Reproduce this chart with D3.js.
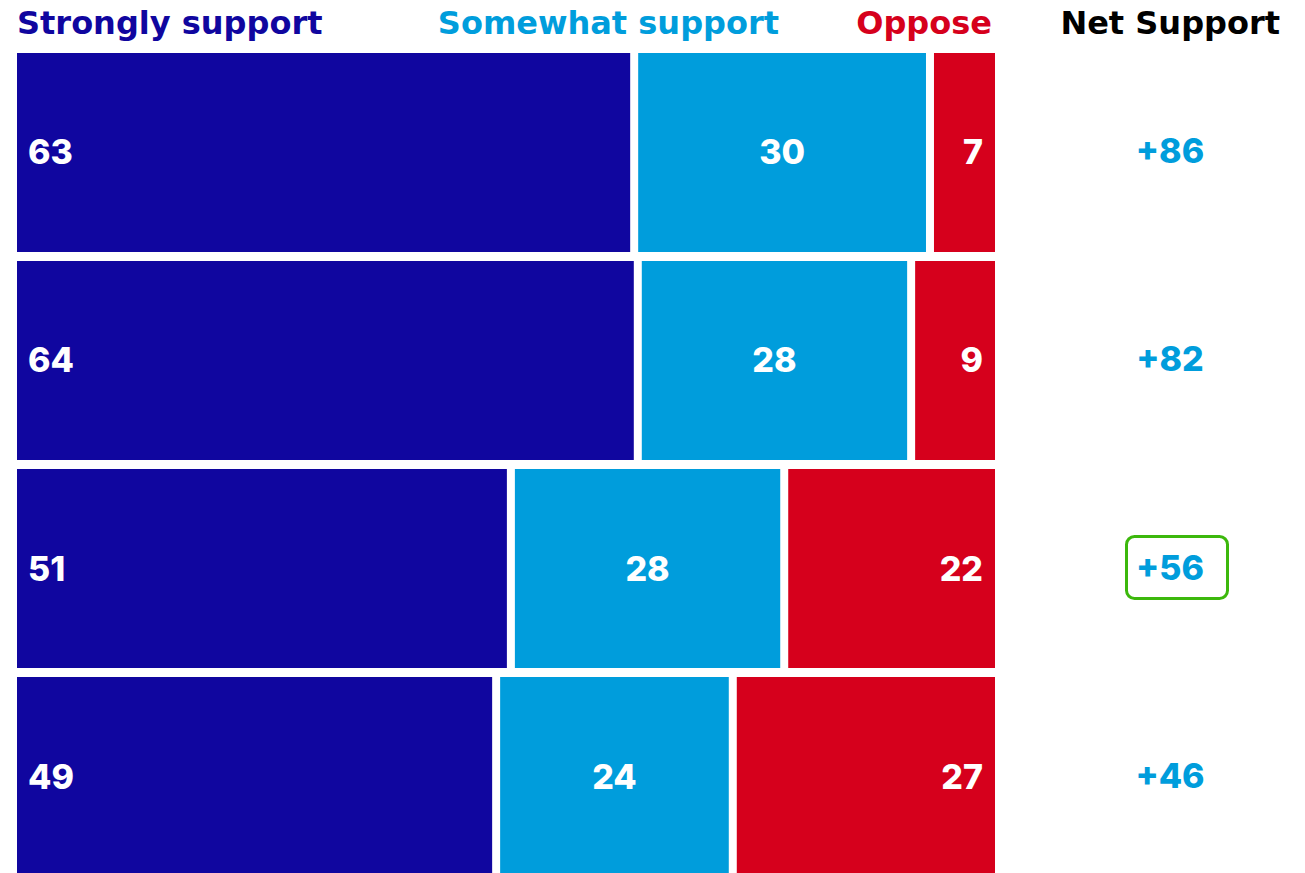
<!DOCTYPE html>
<html>
<head>
<meta charset="utf-8">
<script src="https://cdn.jsdelivr.net/npm/d3@7"></script>
<style>
  html, body { margin: 0; padding: 0; background: #ffffff; }
  svg { display: block; }
  text { font-family: Inter, "Open Sans", sans-serif; font-weight: 800; }
  text.header { font-family: "DejaVu Sans", sans-serif; font-weight: 700; }
</style>
</head>
<body>
<svg id="chart" width="1305" height="873"></svg>
<script>
// Survey responses per group (percent)
const rows = ["r1", "r2", "r3", "r4"];
const strongly = [63, 64, 51, 49];
const somewhat = [30, 28, 28, 24];
const oppose = [7, 9, 22, 27];
const netSupport = ["+86", "+82", "+56", "+46"];
const highlighted = "r3";

const seriesNames = ["Strongly support", "Somewhat support", "Oppose"];
const seriesValues = [strongly, somewhat, oppose];
const colors = ["#10069f", "#009ddc", "#d6001c"];

const svg = d3.select("#chart");
const left = 17, right = 1003, gap = 8;

const y = d3.scaleBand()
  .domain(rows)
  .range([53, 876])
  .paddingInner(0.0433)
  .paddingOuter(0);

// Column headers
const headerY = 34;
const headers = [
  { text: seriesNames[0], x: 17, anchor: "start", color: colors[0] },
  { text: seriesNames[1], x: 779, anchor: "end", color: colors[1] },
  { text: seriesNames[2], x: 992, anchor: "end", color: colors[2] },
  { text: "Net Support", x: 1280, anchor: "end", color: "#000000" }
];
svg.selectAll("text.header")
  .data(headers)
  .join("text")
  .attr("class", "header")
  .attr("x", d => d.x).attr("y", headerY)
  .attr("text-anchor", d => d.anchor)
  .attr("font-size", 32)
  .attr("fill", d => d.color)
  .text(d => d.text);

rows.forEach((r, i) => {
  const vals = seriesValues.map(s => s[i]);
  const total = d3.sum(vals);
  const x = d3.scaleLinear().domain([0, total]).range([left, right]);
  const y0 = y(r), h = y.bandwidth(), cy = y0 + h / 2;
  let acc = 0;
  vals.forEach((v, k) => {
    const x0 = x(acc), x1 = x(acc + v) - gap;
    acc += v;
    svg.append("rect")
      .attr("x", x0).attr("y", y0)
      .attr("width", x1 - x0).attr("height", h)
      .attr("fill", colors[k]);
    const lbl = svg.append("text")
      .attr("y", cy + 12)
      .attr("font-size", 34)
      .attr("fill", "#ffffff")
      .text(v);
    if (k === 0) lbl.attr("x", x0 + 11).attr("text-anchor", "start");
    else if (k === 1) lbl.attr("x", (x0 + x1) / 2).attr("text-anchor", "middle");
    else lbl.attr("x", x1 - 12).attr("text-anchor", "end");
  });

  // Net support column
  const nx = 1170;
  if (r === highlighted) {
    svg.append("rect")
      .attr("x", 1126.5).attr("y", cy - 32)
      .attr("width", 101).attr("height", 62)
      .attr("rx", 8).attr("ry", 8)
      .attr("fill", "none")
      .attr("stroke", "#3cb80c")
      .attr("stroke-width", 3);
  }
  svg.append("text")
    .attr("x", nx).attr("y", cy + 11)
    .attr("text-anchor", "middle")
    .attr("font-size", 34)
    .attr("fill", colors[1])
    .text(netSupport[i]);
});
</script>
</body>
</html>
